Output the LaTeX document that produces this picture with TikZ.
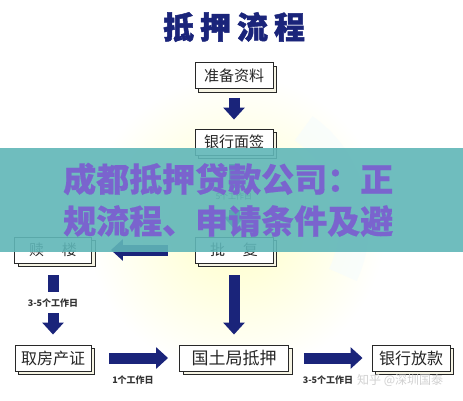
\documentclass[tikz,border=0pt]{standalone}
\usepackage{fontspec}
\newfontfamily\cjk{Noto Sans CJK SC}
\newfontfamily\cjkheavy[FakeBold=1.6]{Noto Sans CJK SC}
\newfontfamily\cjkbanner[FakeBold=0.6]{Noto Sans CJK SC}
\usetikzlibrary{arrows.meta,shadows}
\definecolor{navy}{RGB}{26,36,122}
\definecolor{teal1}{RGB}{96,182,184}
\definecolor{purp}{RGB}{122,100,206}
\definecolor{boxline}{RGB}{40,40,40}
\definecolor{shadowfill}{RGB}{246,244,228}
\begin{document}
\begin{tikzpicture}[x=1pt,y=-1pt,
  box/.style={draw=boxline, line width=0.9pt, fill=white, inner sep=0pt,
    minimum height=26pt, text=black!85,
    copy shadow={shadow xshift=3.5pt, shadow yshift=-3.5pt, fill=shadowfill, draw=boxline, line width=0.9pt},
    font=\cjk\fontsize{15}{15}\selectfont},
  bigbox/.style={box, font=\cjk\fontsize{17}{17}\selectfont},
  barrow/.style={draw=navy, line width=11pt, -{Triangle[width=21pt,length=12pt]}},
  bbody/.style={draw=navy, line width=11pt},
  lab/.style={font=\cjk\bfseries\fontsize{9}{9}\selectfont, text=black!80, inner sep=0pt, minimum height=10pt},
  banner/.style={font=\cjkbanner\bfseries\fontsize{33}{33}\selectfont, text=purp, inner sep=0pt, anchor=west},
]
\useasboundingbox (0,0) rectangle (463,400);
\fill[white] (0,0) rectangle (463,400);
% soft background glow
\shade[inner color=yellow!22, outer color=white] (236,225) circle (150);
\draw[line width=30pt, cyan!4, opacity=0.6] (236,225) ++(-55:118) arc[start angle=-55, end angle=25, radius=118];

% title
\node[font=\cjkheavy\bfseries\fontsize{31}{31}\selectfont, text=navy, inner sep=0pt] (title) at (234,27)
  {抵\hspace{6pt}押\hspace{6pt}流\hspace{6pt}程};

% boxes
\node[box, minimum width=78pt] (prep) at (234,75.5) {准备资料};
\node[box, minimum width=78pt] (sign) at (234,142) {银行面签};
\node[box, minimum width=77pt] (redeem) at (53,250) {赎\hspace{1.2em}楼};
\node[box, minimum width=78pt] (approve) at (234,250) {批\hspace{1.2em}复};
\node[bigbox, minimum width=76pt, font=\cjk\fontsize{16}{16}\selectfont] (getcert) at (53,358) {取房产证};
\node[bigbox, minimum width=109pt] (land) at (234,358) {国土局抵押};
\node[bigbox, minimum width=78pt, font=\cjk\fontsize{16}{16}\selectfont] (loan) at (411,358) {银行放款};

% labels
\node[lab, font=\cjk\fontsize{8}{8}\selectfont] (l5) at (234,196) {5个工作日};
\node[lab] (l35a) at (53,303) {3-5个工作日};
\node[lab] (l1) at (133,380) {1个工作日};
\node[lab] (l35b) at (328,380) {3-5个工作日};

% arrows
\draw[barrow, shorten <=9pt, shorten >=9pt] (prep) -- (sign);
\draw[bbody, shorten <=9pt, shorten >=3pt] (sign) -- (l5);
\draw[barrow, shorten <=9pt, shorten >=8pt] (l5) -- (approve);
\draw[barrow, shorten <=27pt, shorten >=19pt] (approve) -- (redeem);
\draw[bbody, shorten <=12pt, shorten >=6pt] (redeem) -- (l35a);
\draw[barrow, shorten <=5pt, shorten >=10pt] (l35a) -- (getcert);
\draw[barrow, shorten <=12pt, shorten >=10pt] (approve) -- (land);
\draw[barrow, shorten <=18pt, shorten >=11pt] (getcert) -- (land);
\draw[barrow, shorten <=15pt, shorten >=9pt] (land) -- (loan);

% banner overlay
\fill[teal1, opacity=0.9] (0,148) rectangle (463,251.5);
\node[banner] (b1) at (63,179) {成都抵押贷款公司：正};
\node[banner] (b2) at (63,221) {规流程、申请条件及避};

% watermark
\node[font=\cjk\fontsize{12}{12}\selectfont, text=black!18, inner sep=0pt, anchor=west] (wm) at (357,380) {知乎 @深圳国泰};
\end{tikzpicture}
\end{document}
